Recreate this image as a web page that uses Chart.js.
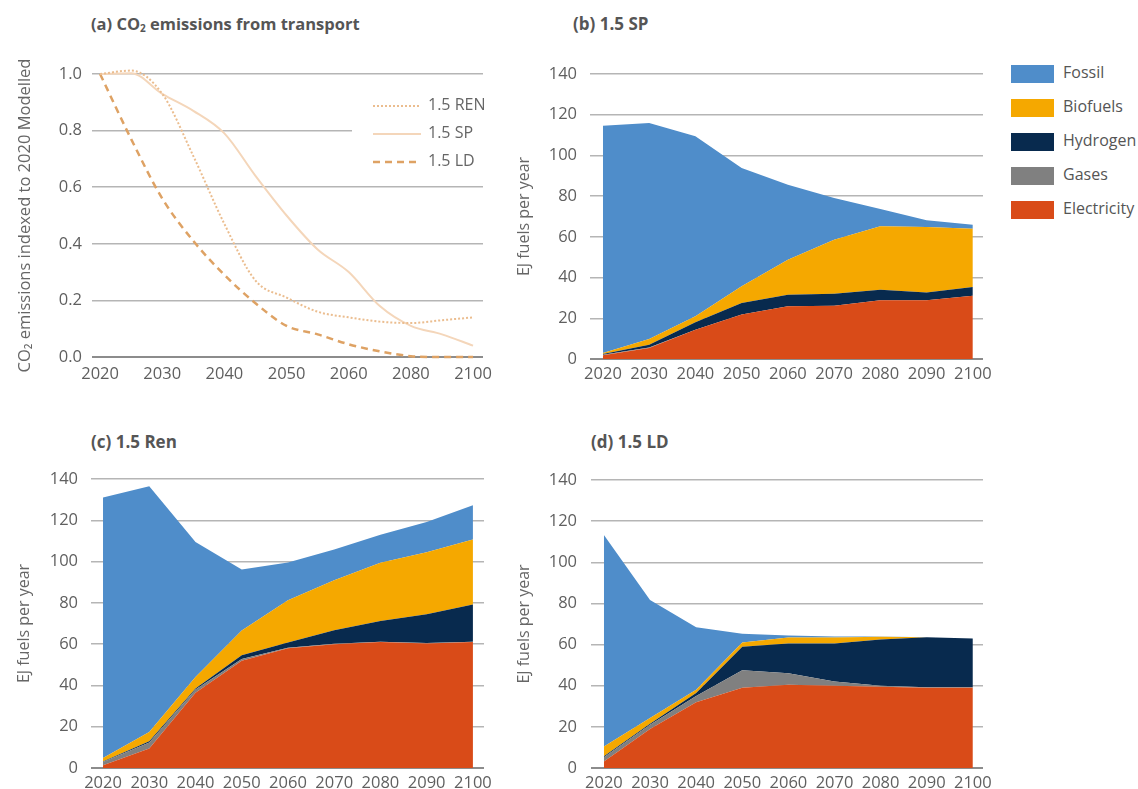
<!DOCTYPE html>
<html>
<head>
<meta charset="utf-8">
<script src="https://cdn.jsdelivr.net/npm/chart.js@4.4.0/dist/chart.umd.min.js"></script>
<style>
    body { margin: 0; width: 1138px; height: 789px; overflow: hidden; background: #fff; position: relative; font-family: 'Open Sans', sans-serif; }
    canvas { position: absolute; }
    .title { position: absolute; font-weight: bold; font-size: 17px; color: #555; line-height: 22px; white-space: nowrap; }
    .title sub { font-size: 10px; vertical-align: -2px; }
    #legend-a { position: absolute; left: 352px; top: 88px; width: 132px; height: 86px; background: #fff; }
    #legend-a div { position: absolute; left: 21px; height: 22px; font-size: 16px; color: #666; line-height: 22px; white-space: nowrap; }
    #legend-a svg { vertical-align: middle; margin-right: 7px; }
    #legend-b div { position: absolute; left: 1011px; height: 20px; font-size: 16px; color: #555; line-height: 20px; white-space: nowrap; }
    #legend-b span { display: inline-block; width: 43px; height: 18px; vertical-align: middle; margin-right: 9px; }
</style>
</head>
<body>
<div class="title" style="left:91px; top:13px; font-size:16.5px;">(a) CO<sub>2</sub> emissions from transport</div>
<div class="title" style="left:573px; top:13px;">(b) 1.5 SP</div>
<div class="title" style="left:91px; top:431px;">(c) 1.5 Ren</div>
<div class="title" style="left:591px; top:431px;">(d) 1.5 LD</div>

<canvas id="chartA" width="500" height="400" style="left:0; top:0;"></canvas>
<canvas id="chartB" width="500" height="400" style="left:500px; top:0;"></canvas>
<canvas id="chartC" width="500" height="400" style="left:0; top:400px;"></canvas>
<canvas id="chartD" width="500" height="400" style="left:500px; top:400px;"></canvas>

<div id="legend-a"></div>
<div id="legend-b"></div>

<script>
// (a) CO2 emissions, indexed to 2020
const lineYears = ['2020', '2025', '2030', '2035', '2040', '2045', '2050', '2055', '2060', '2070', '2080', '2090', '2100'];
const lineTickYears = ['2020', '2030', '2040', '2050', '2060', '2080', '2100'];
const renEmissions = [1.0, 1.012, 0.93, 0.71, 0.47, 0.27, 0.21, 0.16, 0.14, 0.125, 0.12, 0.13, 0.14];
const spEmissions = [1.0, 1.003, 0.93, 0.87, 0.79, 0.64, 0.50, 0.38, 0.30, 0.18, 0.11, 0.08, 0.04];
const ldEmissions = [1.0, 0.77, 0.56, 0.41, 0.29, 0.19, 0.11, 0.08, 0.045, 0.02, 0.003, 0.0, 0.0];

// (b)-(d) fuels, EJ per year
const years = ['2020', '2030', '2040', '2050', '2060', '2070', '2080', '2090', '2100'];
const fuelNames = ['Electricity', 'Gases', 'Hydrogen', 'Biofuels', 'Fossil'];
const fuelColors = ['#d94b18', '#808080', '#082a4e', '#f5a800', '#4f8dca'];

const spElectricity = [1.8, 5.4, 14.4, 21.8, 25.9, 26.2, 28.8, 28.8, 31.1];
const spGases = [0.3, 0.3, 0, 0, 0, 0, 0, 0, 0];
const spHydrogen = [0.3, 1.3, 3.6, 5.7, 5.7, 5.9, 5.2, 3.9, 4.3];
const spBiofuels = [0.5, 2.8, 3, 8.2, 17.2, 26.5, 31.2, 32.1, 28.6];
const spFossil = [111.7, 106.1, 88.4, 58.1, 36.8, 20.5, 8.5, 3.3, 2];

const renElectricity = [1.3, 9.4, 36.5, 52, 58, 60, 61, 60.3, 61];
const renGases = [1.6, 3, 1.5, 0.8, 0.3, 0.2, 0.2, 0.2, 0.2];
const renHydrogen = [0.3, 0.5, 0.5, 1.8, 2.5, 6.5, 10, 14, 18];
const renBiofuels = [1.6, 4.5, 5.6, 12, 20.5, 24.3, 28.2, 30, 31.5];
const renFossil = [126.2, 119.1, 65.4, 29.5, 18.2, 14.8, 13.6, 14.7, 16.6];

const ldElectricity = [3.2, 19, 32, 39, 40.5, 40, 39.5, 39, 39];
const ldGases = [2, 2, 3, 8.5, 5.5, 2, 0.5, 0.3, 0.3];
const ldHydrogen = [0.5, 0.5, 1.5, 11.5, 14.5, 18.5, 22.5, 24.3, 23.6];
const ldBiofuels = [4.8, 2.8, 1.5, 2, 2.9, 2.9, 1.3, 0, 0];
const ldFossil = [102.8, 57.4, 30.4, 4.2, 1, 0.5, 0.1, 0, 0];

const FONT = "'Open Sans', sans-serif";
const GRID = '#b5b5b5';
const BASE = '#8c8c8c';
const TICK = '#5f5f5f';

function gridColor(ctx) {
    return ctx.tick && ctx.tick.value === 0 ? BASE : GRID;
}
function gridWidth(ctx) {
    return ctx.tick && ctx.tick.value === 0 ? 2 : 1.5;
}

function toPoints(values) {
    return values.map((v, i) => ({ x: i, y: v }));
}

// ---- (a) line chart
const lineStyles = [
    { label: '1.5 REN', data: renEmissions, color: '#ebbd8f', dash: [2, 2], width: 2 },
    { label: '1.5 SP', data: spEmissions, color: '#f4d6ba', dash: [], width: 2 },
    { label: '1.5 LD', data: ldEmissions, color: '#dea264', dash: [7, 5], width: 2.5 }
];

new Chart(document.getElementById('chartA'), {
    type: 'line',
    data: {
        datasets: lineStyles.map(s => ({
            label: s.label,
            data: toPoints(s.data),
            borderColor: s.color,
            borderDash: s.dash,
            borderWidth: s.width,
            pointRadius: 0,
            cubicInterpolationMode: 'monotone',
            clip: 6,
            fill: false
        }))
    },
    options: {
        responsive: false,
        animation: false,
        layout: { padding: { top: 74, right: 17, left: 0, bottom: 0 } },
        plugins: { legend: { display: false }, tooltip: { enabled: false } },
        scales: {
            x: {
                type: 'linear',
                min: -0.26,
                max: lineYears.length - 1 + 0.32,
                afterBuildTicks: (scale) => {
                    scale.ticks = lineTickYears.map(y => ({ value: lineYears.indexOf(y) }));
                },
                afterFit: (scale) => { scale.height = 43; },
                grid: { display: false, drawTicks: false },
                border: { display: false },
                ticks: {
                    autoSkip: false,
                    maxRotation: 0,
                    padding: 7,
                    color: TICK,
                    font: { family: FONT, size: 16.5 },
                    callback: (v) => lineYears[v]
                }
            },
            y: {
                min: 0,
                max: 1,
                afterFit: (scale) => { scale.width = 92; },
                border: { display: false },
                grid: { color: gridColor, lineWidth: gridWidth, drawTicks: false },
                ticks: {
                    stepSize: 0.2,
                    padding: 10,
                    color: TICK,
                    font: { family: FONT, size: 16.5 },
                    callback: (v) => v.toFixed(1)
                },
                title: {
                    display: true,
                    text: 'CO₂ emissions indexed to 2020 Modelled',
                    color: '#666',
                    font: { family: FONT, size: 16.5 },
                    padding: { top: 15, bottom: 0 }
                }
            }
        }
    }
});

// ---- stacked fuel charts
function renderFuelChart(id, series, geo) {
    new Chart(document.getElementById(id), {
        type: 'line',
        data: {
            datasets: series.map((values, i) => ({
                label: fuelNames[i],
                data: toPoints(values),
                backgroundColor: fuelColors[i],
                borderColor: fuelColors[i],
                borderWidth: 0,
                pointRadius: 0,
                tension: 0,
                fill: i === 0 ? 'origin' : '-1'
            }))
        },
        options: {
            responsive: false,
            animation: false,
            layout: { padding: { top: geo.top, right: geo.right, left: 0, bottom: 0 } },
            plugins: { legend: { display: false }, tooltip: { enabled: false } },
            scales: {
                x: {
                    type: 'linear',
                    min: geo.xMin,
                    max: years.length - 1 + geo.xMax,
                    afterBuildTicks: (scale) => {
                        scale.ticks = years.map((y, i) => ({ value: i }));
                    },
                    afterFit: (scale) => { scale.height = 400 - geo.bottom; },
                    grid: { display: false, drawTicks: false },
                    border: { display: false },
                    ticks: {
                        autoSkip: false,
                        maxRotation: 0,
                        padding: 5,
                        color: TICK,
                        font: { family: FONT, size: 16.5 },
                        callback: (v) => years[v]
                    }
                },
                y: {
                    stacked: true,
                    min: 0,
                    max: 140,
                    afterFit: (scale) => { scale.width = geo.yWidth; },
                    border: { display: false },
                    grid: { color: gridColor, lineWidth: gridWidth, drawTicks: false },
                    ticks: {
                        stepSize: 20,
                        padding: geo.tickPad,
                        color: TICK,
                        font: { family: FONT, size: 16.5 }
                    },
                    title: {
                        display: true,
                        text: 'EJ fuels per year',
                        color: '#666',
                        font: { family: FONT, size: 16 },
                        padding: { top: geo.titlePad, bottom: 0 }
                    }
                }
            }
        }
    });
}

renderFuelChart('chartB', [spElectricity, spGases, spHydrogen, spBiofuels, spFossil],
    { top: 74, bottom: 359, right: 17, yWidth: 90, xMin: -0.28, xMax: 0.22, tickPad: 13, titlePad: 15 });
renderFuelChart('chartC', [renElectricity, renGases, renHydrogen, renBiofuels, renFossil],
    { top: 79, bottom: 368, right: 16, yWidth: 91, xMin: -0.26, xMax: 0.24, tickPad: 13, titlePad: 15 });
renderFuelChart('chartD', [ldElectricity, ldGases, ldHydrogen, ldBiofuels, ldFossil],
    { top: 80, bottom: 368, right: 17, yWidth: 91, xMin: -0.28, xMax: 0.22, tickPad: 14, titlePad: 15 });

// ---- legends
const legendA = document.getElementById('legend-a');
lineStyles.forEach((s, i) => {
    const row = document.createElement('div');
    row.style.top = (5 + i * 28) + 'px';
    row.innerHTML = `<svg width="48" height="6"><line x1="0" y1="3" x2="48" y2="3" stroke="${s.color}"
        stroke-width="${s.width}" stroke-dasharray="${s.dash.join(',')}"/></svg>${s.label}`;
    legendA.appendChild(row);
});

const legendB = document.getElementById('legend-b');
const legendOrder = ['Fossil', 'Biofuels', 'Hydrogen', 'Gases', 'Electricity'];
legendOrder.forEach((name, i) => {
    const row = document.createElement('div');
    row.style.top = (62 + i * 34) + 'px';
    row.innerHTML = `<span style="background:${fuelColors[fuelNames.indexOf(name)]}"></span>${name}`;
    legendB.appendChild(row);
});
</script>
</body>
</html>
